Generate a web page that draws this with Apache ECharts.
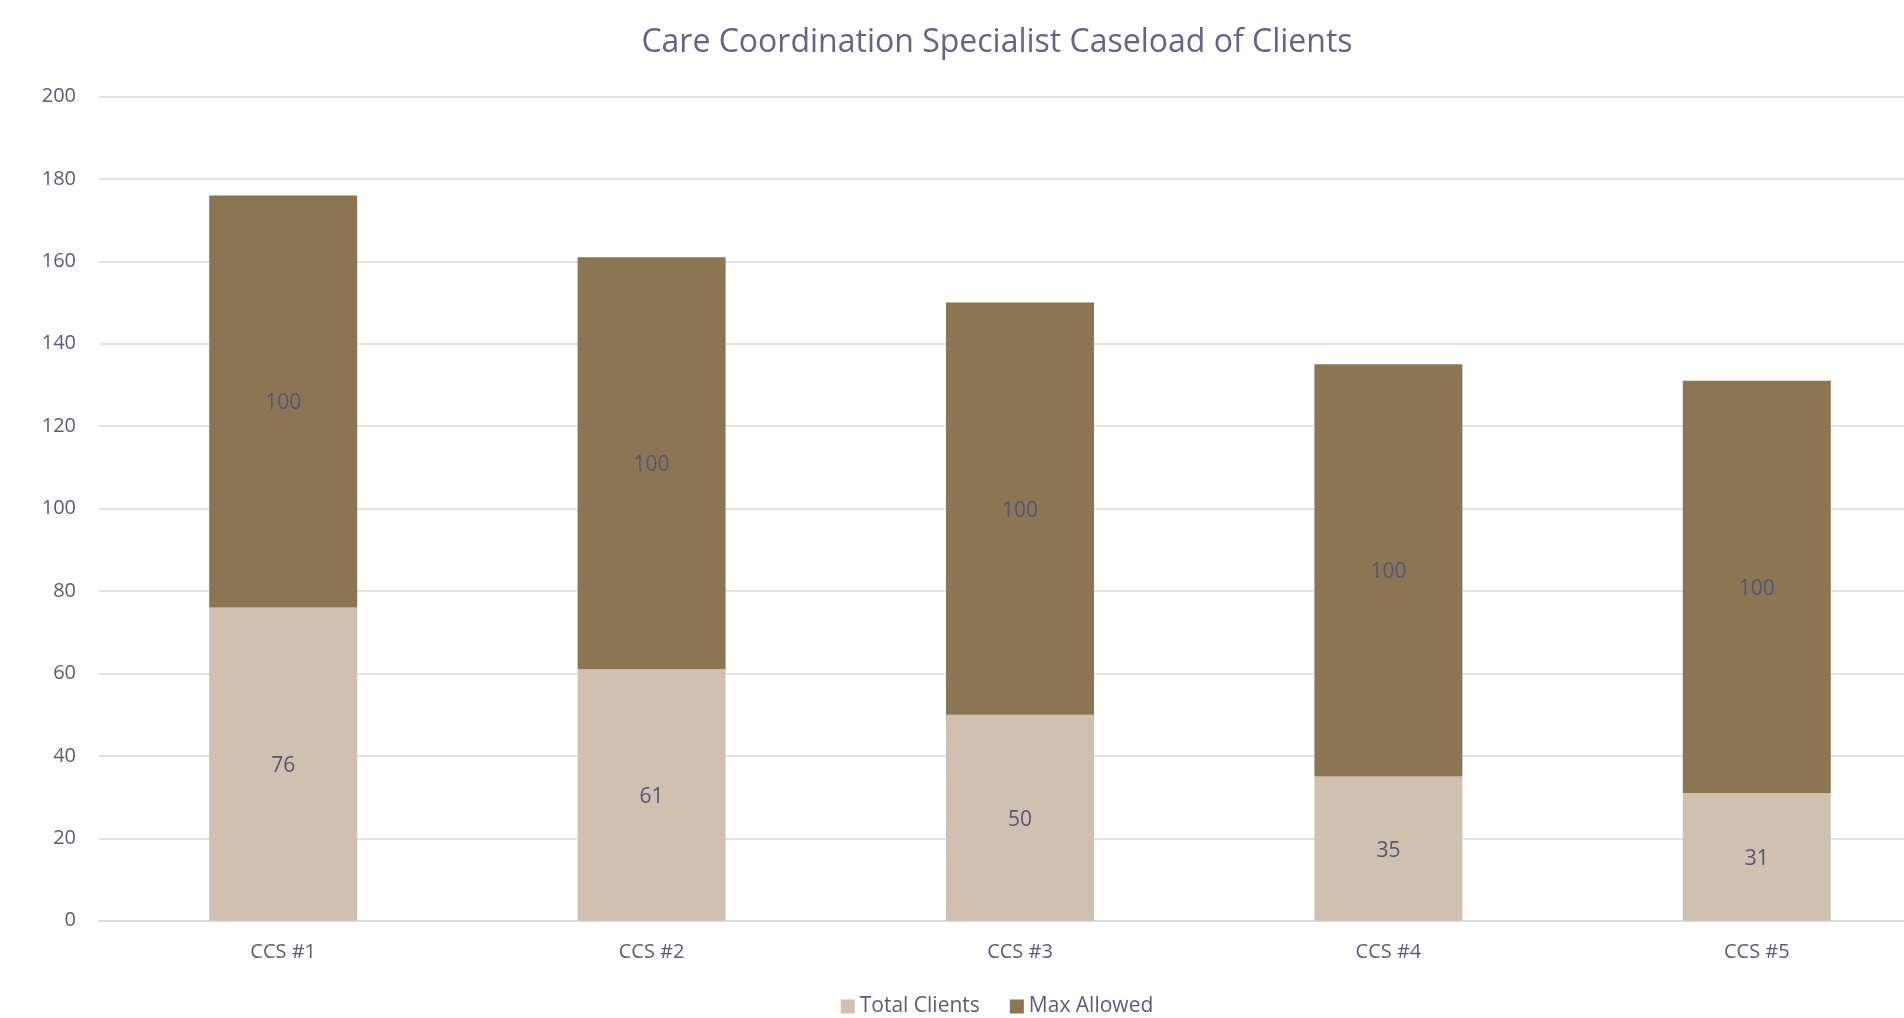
<!DOCTYPE html>
<html>
<head>
    <meta charset="utf-8">
    <title>Care Coordination Specialist Caseload of Clients</title>
    <script src="https://cdn.jsdelivr.net/npm/echarts@6/dist/echarts.min.js"></script>
    <style>
        html, body { margin: 0; padding: 0; overflow: hidden; background: #fff; }
        /* wider than the window so the plot runs off the right edge like the original */
        #chart { width: 1994px; height: 1018px; }
    </style>
</head>
<body>
<div id="chart"></div>
<script>
    var categories = ['CCS #1', 'CCS #2', 'CCS #3', 'CCS #4', 'CCS #5'];
    var totalClients = [76, 61, 50, 35, 31];
    var maxAllowed = [100, 100, 100, 100, 100];
    var yTicks = [0, 200, 20];   // min, max, interval

    var textColor = '#5b5b7b';
    var fontFamily = '"Open Sans", sans-serif';

    var myChart = echarts.init(document.getElementById('chart'));

    myChart.setOption({
        animation: false,
        title: {
            text: 'Care Coordination Specialist Caseload of Clients',
            left: 'center',
            top: 22,
            textStyle: {
                color: '#64648a',
                fontSize: 32,
                fontWeight: 'normal',
                fontFamily: fontFamily
            }
        },
        legend: {
            data: ['Total Clients', 'Max Allowed'],
            left: 'center',
            top: 991,
            icon: 'rect',
            itemWidth: 14,
            itemHeight: 14,
            itemGap: 30,
            textStyle: { color: textColor, fontSize: 21, fontFamily: fontFamily }
        },
        grid: {
            left: 99,
            right: 53,
            top: 96.5,
            bottom: 97.3
        },
        xAxis: {
            type: 'category',
            data: categories,
            axisLine: { lineStyle: { color: '#d9d9e1', width: 1.5 } },
            axisTick: { show: false },
            axisLabel: { color: textColor, fontSize: 20, fontFamily: fontFamily, margin: 22 }
        },
        yAxis: {
            type: 'value',
            min: yTicks[0],
            max: yTicks[1],
            interval: yTicks[2],
            axisLine: { show: false },
            axisTick: { show: false },
            axisLabel: { color: textColor, fontSize: 20, fontFamily: fontFamily, margin: 23 },
            splitLine: { lineStyle: { color: '#d9d9e1', width: 1.5 } }
        },
        series: [
            {
                name: 'Total Clients',
                type: 'bar',
                stack: 'total',
                barWidth: 148,
                data: totalClients,
                itemStyle: { color: '#d0c0b0' },
                label: { show: true, position: 'inside', offset: [0, 2], color: '#55557a', fontSize: 21, fontFamily: fontFamily }
            },
            {
                name: 'Max Allowed',
                type: 'bar',
                stack: 'total',
                barWidth: 148,
                data: maxAllowed,
                itemStyle: { color: '#8b7553' },
                label: { show: true, position: 'inside', offset: [0, 2], color: '#55557a', fontSize: 21, fontFamily: fontFamily }
            }
        ]
    });
</script>
</body>
</html>
